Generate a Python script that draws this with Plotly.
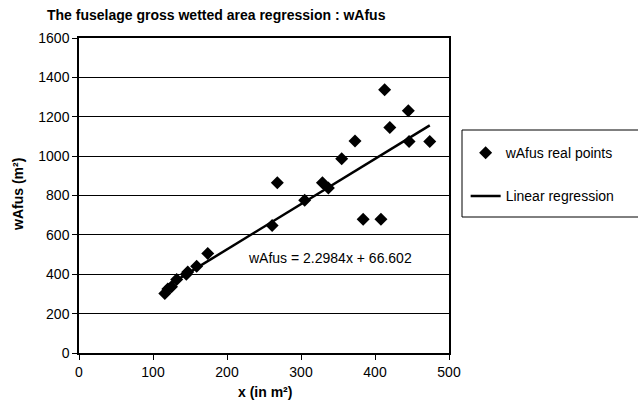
import plotly.graph_objects as go

# Data
x_vals = [116, 120, 125, 132, 145, 147, 159, 174, 261, 268, 305, 329, 337, 355,
          373, 384, 408, 413, 420, 445, 446, 474]
y_vals = [302, 325, 336, 373, 400, 412, 441, 506, 648, 865, 776, 865, 838, 987,
          1077, 680, 680, 1337, 1145, 1230, 1074, 1074]
slope = 2.2984
intercept = 66.602
x_ticks = [0, 100, 200, 300, 400, 500]
y_ticks = [0, 200, 400, 600, 800, 1000, 1200, 1400, 1600]

reg_x = [min(x_vals), max(x_vals)]
reg_y = [slope * v + intercept for v in reg_x]

FONT = "Liberation Sans, Arial, sans-serif"

fig = go.Figure()
fig.add_trace(go.Scatter(
    x=x_vals, y=y_vals, mode="markers", name="wAfus real points",
    marker=dict(symbol="diamond", size=10, color="black"),
    legendgroup="a",
))
fig.add_trace(go.Scatter(
    x=reg_x, y=reg_y, mode="lines", name="Linear regression",
    line=dict(color="black", width=2.5),
    legendgroup="b",
))

fig.update_layout(
    width=638, height=402,
    margin=dict(l=79, r=189, t=38, b=49),
    paper_bgcolor="white", plot_bgcolor="white",
    font=dict(family=FONT, size=14, color="black"),
    showlegend=True,
    legend=dict(
        x=1.045, y=0.685, xanchor="left", yanchor="top",
        bgcolor="rgba(0,0,0,0)", borderwidth=0,
        tracegroupgap=22, itemwidth=30,
        font=dict(family=FONT, size=14, color="black"),
    ),
    xaxis=dict(
        range=[0, 500], tickvals=x_ticks, showgrid=False, zeroline=False,
        showline=True, linecolor="black", linewidth=1.5, mirror=True,
        ticks="outside", ticklen=5, tickcolor="black",
        tickfont=dict(size=14),
    ),
    yaxis=dict(
        range=[0, 1600], tickvals=y_ticks, showgrid=True, gridcolor="black",
        gridwidth=1, zeroline=False,
        showline=True, linecolor="black", linewidth=1.5, mirror=True,
        ticks="outside", ticklen=5, tickcolor="black",
        tickfont=dict(size=14),
    ),
    shapes=[dict(
        type="rect", xref="paper", yref="paper",
        x0=(462 - 79) / 370, x1=(640 - 79) / 370,
        y0=(353 - 217) / 315, y1=(353 - 130) / 315,
        line=dict(color="black", width=1), fillcolor="rgba(0,0,0,0)",
    )],
    annotations=[
        dict(text="<b>The fuselage gross wetted area regression : wAfus</b>",
             xref="paper", yref="paper", x=(216 - 79) / 370, y=(353 - 15) / 315,
             xanchor="center", yanchor="middle", showarrow=False,
             font=dict(size=14)),
        dict(text="<b>x (in m²)</b>", xref="paper", yref="paper",
             x=(265 - 79) / 370, y=(353 - 392) / 315,
             xanchor="center", yanchor="middle", showarrow=False,
             font=dict(size=14)),
        dict(text="<b>wAfus (m²)</b>", xref="paper", yref="paper",
             x=(18 - 79) / 370, y=(353 - 195) / 315, textangle=-90,
             xanchor="center", yanchor="middle", showarrow=False,
             font=dict(size=14)),
        dict(text=f"wAfus = {slope}x + {intercept}", xref="x", yref="y",
             x=226, y=482, xanchor="left", yanchor="middle", showarrow=False,
             font=dict(size=14)),
    ],
)

fig.write_html("out.html", config={"displayModeBar": False},
               post_script="document.body.style.margin='0';document.body.style.padding='0';")
